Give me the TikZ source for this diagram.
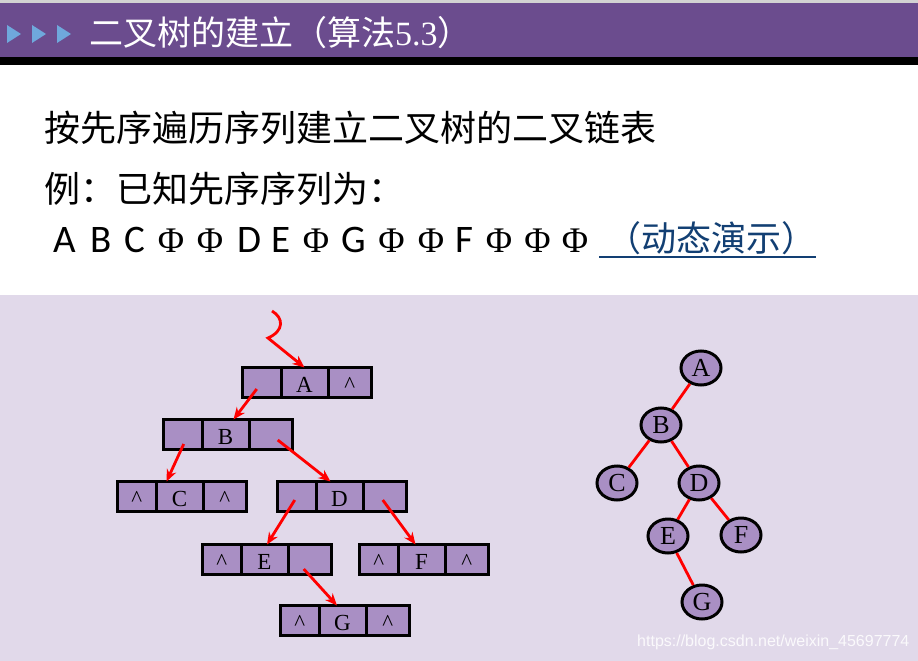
\documentclass[tikz,border=0pt]{standalone}
\usepackage{fontspec}
\setmainfont{Liberation Serif}
\newfontfamily\cjkfont{Noto Sans CJK SC}
\newfontfamily\calfont{Carlito}
\newfontfamily\serffont{Liberation Serif}
\newfontfamily\wmfont{Liberation Sans}
\usetikzlibrary{arrows.meta,calc,shapes.geometric}
\definecolor{titlepurple}{HTML}{6B4C8E}
\definecolor{lav}{HTML}{E1D9EA}
\definecolor{cellfill}{HTML}{A98FC4}
\definecolor{linkblue}{HTML}{123F73}
\definecolor{tri}{HTML}{6FA8DC}
\newcommand\PH{{\serffont\fontsize{36}{36}\selectfont Φ}}
\newcommand\CA{\textasciicircum}
\newcommand\CL{\textasciicircum\hspace{12pt}}
\newcommand\listnode[6]{%
  \node[cell, minimum width=38.5pt] (#1l) at (#2,#3) {#4};
  \node[cell, minimum width=47pt] (#1d) at (#1l.north east) {#5};
  \node[cell, minimum width=43.5pt] (#1r) at (#1d.north east) {#6};}
\tikzset{
  cell/.style={draw=black, line width=3pt, fill=cellfill, minimum height=30pt,
    inner sep=0pt, outer sep=0pt, anchor=north west,
    font=\fontsize{23}{23}\selectfont, text height=19pt, text depth=0pt},
  tnode/.style={ellipse, draw=black, line width=3pt, fill=cellfill,
    minimum width=40pt, minimum height=34pt, inner sep=0pt,
    font=\fontsize{26}{26}\selectfont},
  arr/.style={red, line width=2.8pt, -{Stealth[length=12pt,width=10pt]}},
  tedge/.style={red, line width=2.8pt},
  seq/.style={anchor=base, inner sep=0pt, font=\calfont\fontsize{39}{39}\selectfont},
  cjkline/.style={anchor=west, inner sep=0pt, font=\cjkfont\fontsize{36}{36}\selectfont}
}
\begin{document}
\begin{tikzpicture}[x=1pt,y=-1pt]
\useasboundingbox (0,0) rectangle (918,661);
% backgrounds
\fill[white] (0,0) rectangle (918,661);
\fill[gray!35] (0,0) rectangle (918,3);
\fill[titlepurple] (0,3) rectangle (918,57);
\fill[black] (0,57) rectangle (918,65);
\fill[lav] (0,295) rectangle (918,661);
% title triangles
\fill[tri] (7,25) -- (21,34) -- (7,43) -- cycle;
\fill[tri] (32,25) -- (46,34) -- (32,43) -- cycle;
\fill[tri] (57,25) -- (71,34) -- (57,43) -- cycle;
\node[anchor=west, inner sep=0pt, text=white, font=\cjkfont\fontsize{34}{34}\selectfont] (title) at (89,33)
  {二叉树的建立（算法{\serffont 5.3}）};
% text lines
\node[cjkline] (l1) at (44,128) {按先序遍历序列建立二叉树的二叉链表};
\node[cjkline] (l2) at (44,189) {例：已知先序序列为：};
\foreach \t/\x [count=\i] in {A/65, B/101.5, C/134.5, \PH/171, \PH/210, D/249, E/281,
   \PH/316, G/353.5, \PH/391.5, \PH/431, F/464.5, \PH/499, \PH/537.5, \PH/575}
  \node[seq] (s\i) at (\x,252) {\t};
\node[anchor=west, inner sep=0pt, text=linkblue, font=\cjkfont\fontsize{35}{35}\selectfont] (link) at (606,238) {（动态演示）};
\coordinate (ul1) at (599,257);
\coordinate (ul2) at (816,257);
\draw[linkblue, line width=2pt] (ul1) -- (ul2);
% linked list nodes
\listnode{A}{242.5}{367.5}{}{A}{\CL}
\listnode{B}{163.5}{419.5}{}{B}{}
\listnode{C}{117.5}{481.5}{\CA}{C}{\CL}
\listnode{D}{277.5}{481.5}{}{D}{}
\listnode{E}{202.5}{544.5}{\CA}{E}{}
\listnode{F}{359.5}{544.5}{\CA}{F}{\CL}
\listnode{G}{280.5}{605.5}{\CA}{G}{\CA}
% arrows
\coordinate (entry) at (272,311);
\draw[arr] (entry) .. controls (284,318) and (284,331) .. (268,338) -- (Ad.north);
\draw[arr] ($(Al.center)+(-5,6.5)$) -- ($(Bd.north)+(8,0)$);
\draw[arr] ($(Bl.center)+(1,9.5)$) -- ($(Cd.north)+(-13,0)$);
\draw[arr] ($(Br.center)+(7,5.5)$) -- ($(Dd.north)+(-9,0)$);
\draw[arr] ($(Dl.center)+(-2,3.5)$) -- ($(Ed.north)+(2.5,0)$);
\draw[arr] ($(Dr.center)+(-2,3.5)$) -- ($(Fd.north)+(-6,0)$);
\draw[arr] ($(Er.center)+(-6,9.5)$) -- ($(Gd.north)+(-5.5,0)$);
% tree
\node[tnode] (tA) at (701,368) {A};
\node[tnode] (tB) at (661,425) {B};
\node[tnode] (tC) at (617,483) {C};
\node[tnode] (tD) at (699,483) {D};
\node[tnode] (tE) at (668,536) {E};
\node[tnode] (tF) at (741,535) {F};
\node[tnode] (tG) at (702,602) {G};
\draw[tedge] (tA) -- (tB);
\draw[tedge] (tB) -- (tC);
\draw[tedge] (tB) -- (tD);
\draw[tedge] (tD) -- (tE);
\draw[tedge] (tD) -- (tF);
\draw[tedge] (tE) -- (tG);
% watermark
\node[anchor=west, inner sep=0pt, text=white, opacity=0.85, font=\wmfont\fontsize{16}{16}\selectfont] (wm) at (637,642) {https://blog.csdn.net/weixin\_45697774};
\end{tikzpicture}
\end{document}
